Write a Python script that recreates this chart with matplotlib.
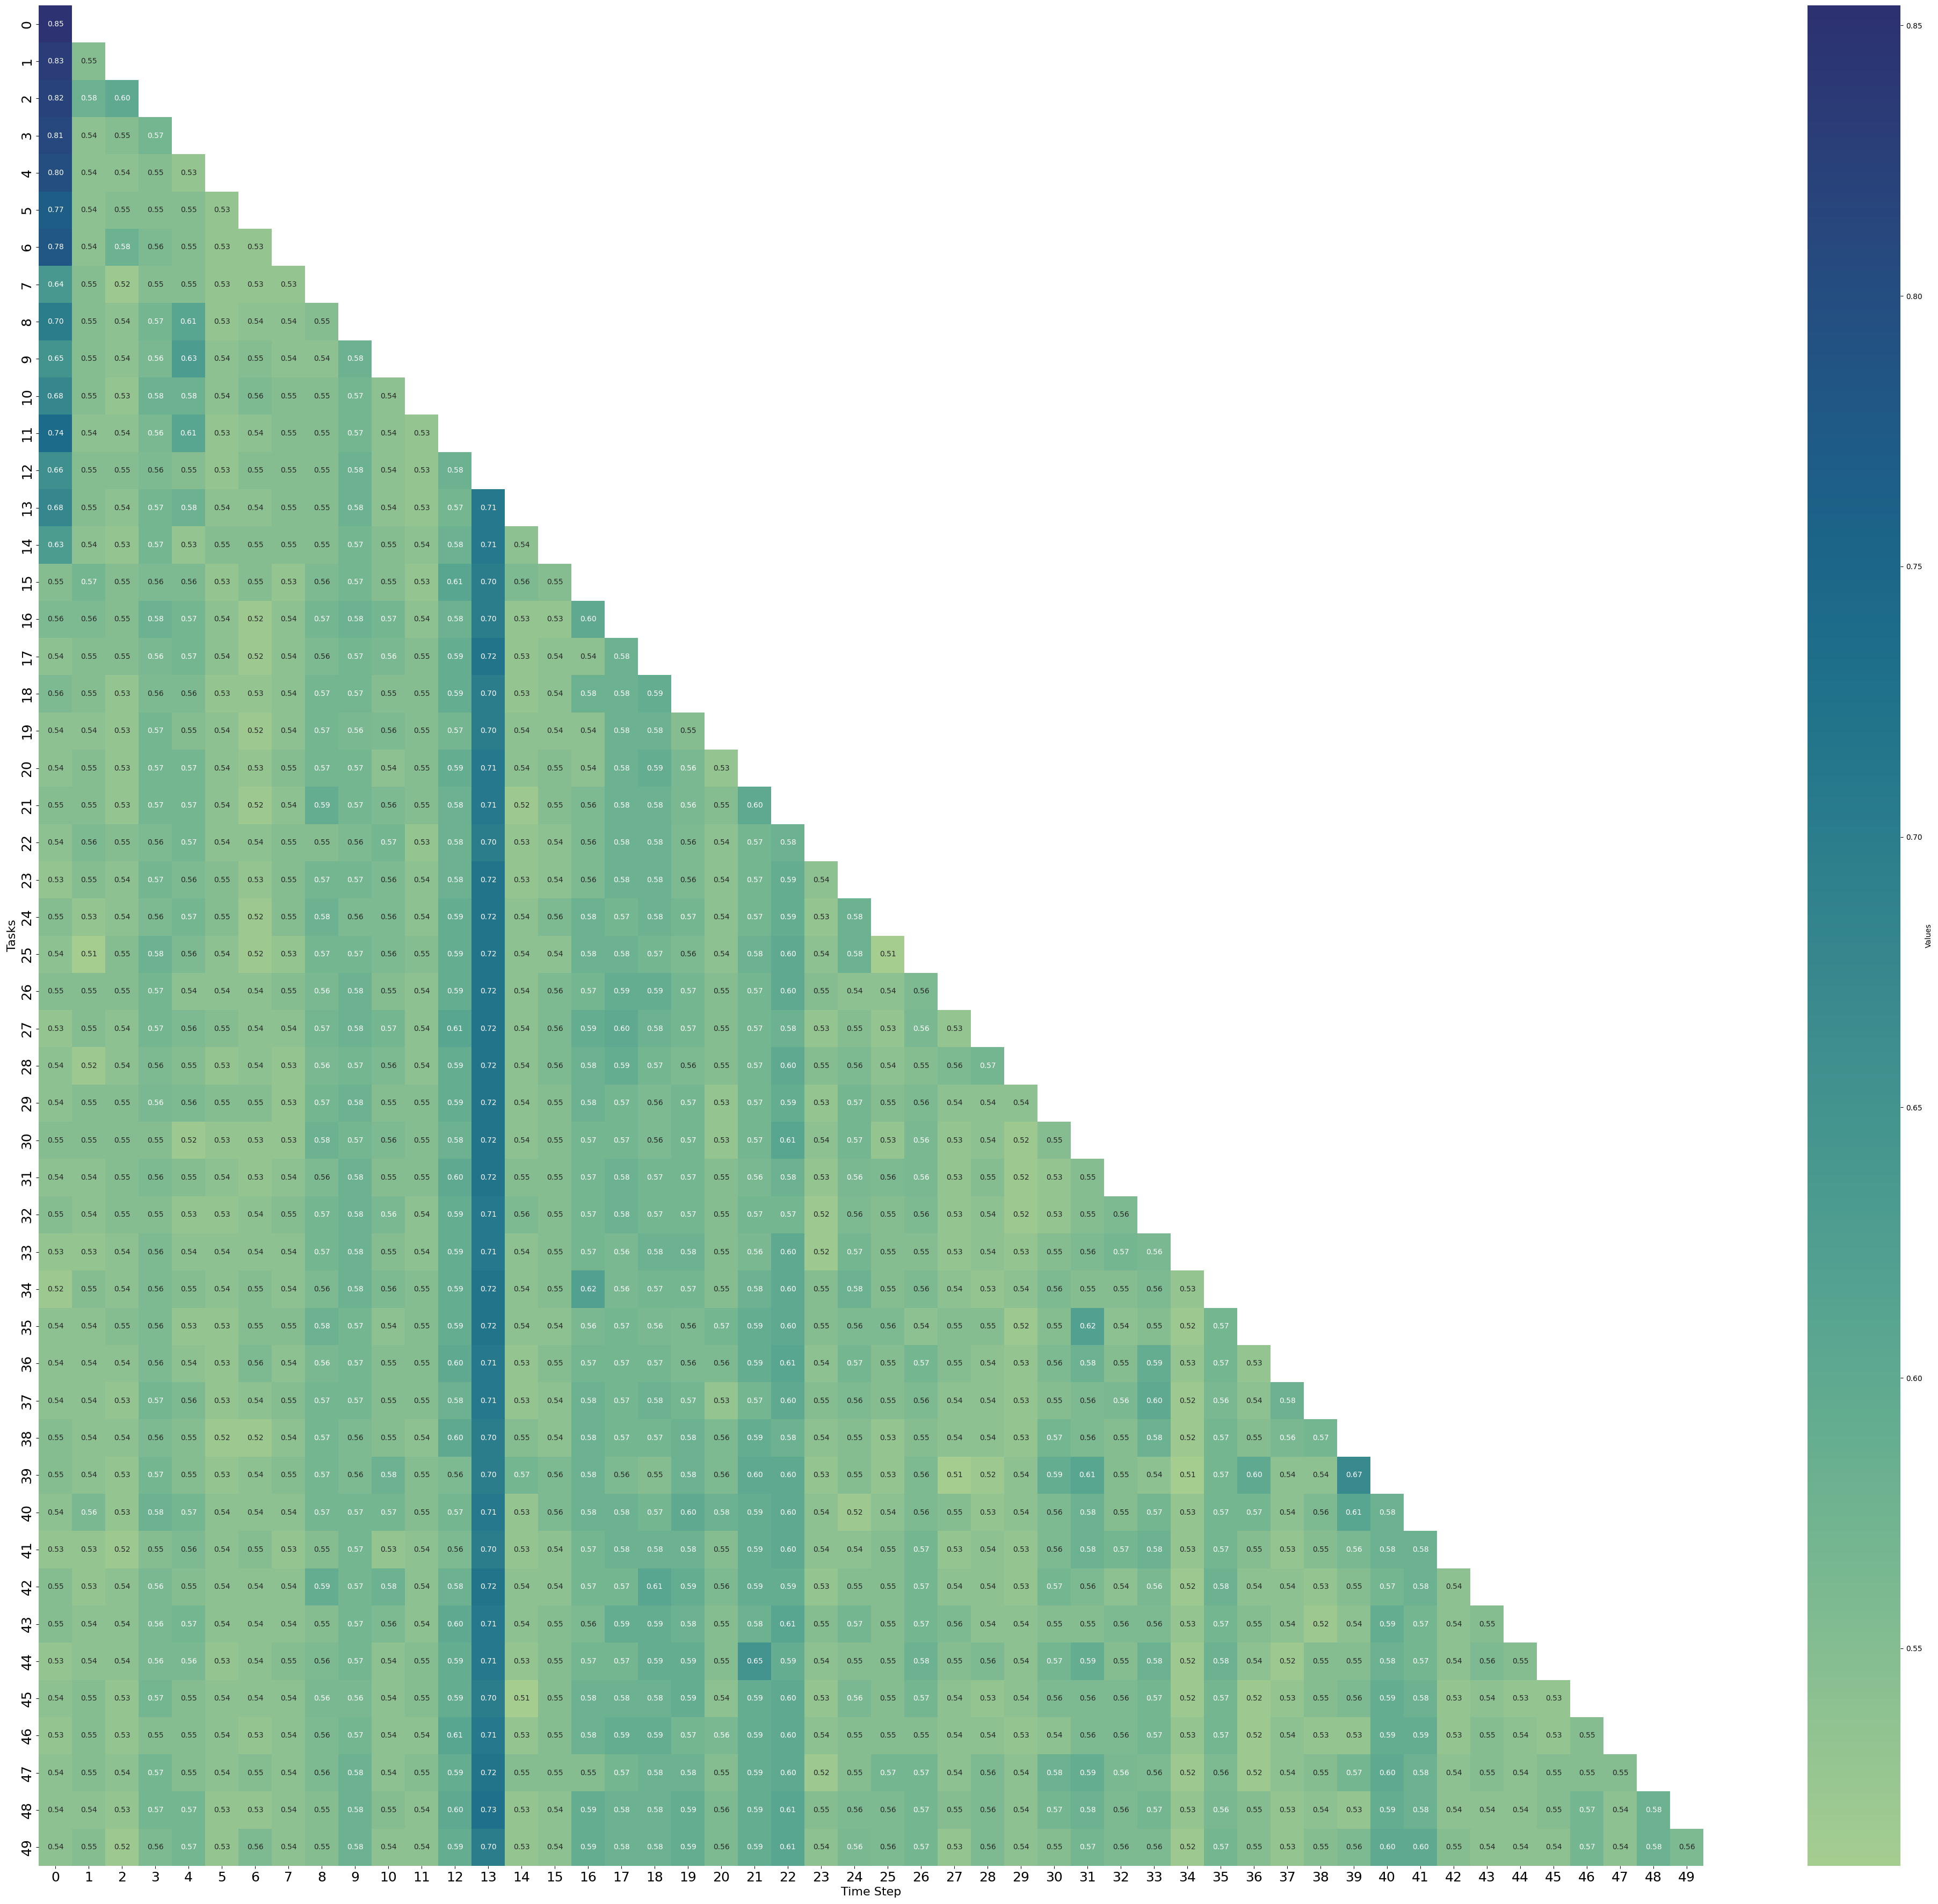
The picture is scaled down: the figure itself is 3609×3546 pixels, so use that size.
import numpy as np
import matplotlib
matplotlib.use("Agg")
import matplotlib.pyplot as plt
import seaborn as sns

# lower triangle, row by row. third decimal on the 0.56 cells is a guess from their shade
rows = [
    [.85],
    [.83,.55],
    [.82,.58,.60],
    [.81,.54,.55,.57],
    [.80,.54,.54,.55,.53],
    [.77,.54,.55,.55,.55,.53],
    [.78,.54,.58,.557,.55,.53,.53],
    [.64,.55,.52,.55,.55,.53,.53,.53],
    [.70,.55,.54,.57,.61,.53,.54,.54,.55],
    [.65,.55,.54,.563,.63,.54,.55,.54,.54,.58],
    [.68,.55,.53,.58,.58,.54,.557,.55,.55,.57,.54],
    [.74,.54,.54,.563,.61,.53,.54,.55,.55,.57,.54,.53],
    [.66,.55,.55,.557,.55,.53,.55,.55,.55,.58,.54,.53,.58],
    [.68,.55,.54,.57,.58,.54,.54,.55,.55,.58,.54,.53,.57,.71],
    [.63,.54,.53,.57,.53,.55,.55,.55,.55,.57,.55,.54,.58,.71,.54],
    [.55,.57,.55,.557,.557,.53,.55,.53,.557,.57,.55,.53,.61,.70,.557,.55],
    [.557,.557,.55,.58,.57,.54,.52,.54,.57,.58,.57,.54,.58,.70,.53,.53,.60],
    [.54,.55,.55,.563,.57,.54,.52,.54,.557,.57,.563,.55,.59,.72,.53,.54,.54,.58],
    [.557,.55,.53,.557,.557,.53,.53,.54,.57,.57,.55,.55,.59,.70,.53,.54,.58,.58,.59],
    [.54,.54,.53,.57,.55,.54,.52,.54,.57,.563,.557,.55,.57,.70,.54,.54,.54,.58,.58,.55],
    [.54,.55,.53,.57,.57,.54,.53,.55,.57,.57,.54,.55,.59,.71,.54,.55,.54,.58,.59,.563,.53],
    [.55,.55,.53,.57,.57,.54,.52,.54,.59,.57,.557,.55,.58,.71,.52,.55,.557,.58,.58,.563,.55,.60],
    [.54,.557,.55,.557,.57,.54,.54,.55,.55,.557,.57,.53,.58,.70,.53,.54,.557,.58,.58,.557,.54,.57,.58],
    [.53,.55,.54,.57,.557,.55,.53,.55,.57,.57,.557,.54,.58,.72,.53,.54,.557,.58,.58,.557,.54,.57,.59,.54],
    [.55,.53,.54,.557,.57,.55,.52,.55,.58,.557,.557,.54,.59,.72,.54,.557,.58,.57,.58,.57,.54,.57,.59,.53,.58],
    [.54,.51,.55,.58,.557,.54,.52,.53,.57,.57,.557,.55,.59,.72,.54,.54,.58,.58,.57,.557,.54,.58,.60,.54,.58,.51],
    [.55,.55,.55,.57,.54,.54,.54,.55,.563,.58,.55,.54,.59,.72,.54,.557,.57,.59,.59,.57,.55,.57,.60,.55,.54,.54,.557],
    [.53,.55,.54,.57,.557,.55,.54,.54,.57,.58,.57,.54,.61,.72,.54,.557,.59,.60,.58,.57,.55,.57,.58,.53,.55,.53,.563,.53],
    [.54,.52,.54,.557,.55,.53,.54,.53,.563,.57,.557,.54,.59,.72,.54,.557,.58,.59,.57,.557,.55,.57,.60,.55,.557,.54,.55,.557,.57],
    [.54,.55,.55,.563,.557,.55,.55,.53,.57,.58,.55,.55,.59,.72,.54,.55,.58,.57,.557,.57,.53,.57,.59,.53,.57,.55,.557,.54,.54,.54],
    [.55,.55,.55,.55,.52,.53,.53,.53,.58,.57,.557,.55,.58,.72,.54,.55,.57,.57,.557,.57,.53,.57,.61,.54,.57,.53,.563,.53,.54,.52,.55],
    [.54,.54,.55,.557,.55,.54,.53,.54,.557,.58,.55,.55,.60,.72,.55,.55,.57,.58,.57,.57,.55,.563,.58,.53,.563,.557,.563,.53,.55,.52,.53,.55],
    [.55,.54,.55,.55,.53,.53,.54,.55,.57,.58,.563,.54,.59,.71,.557,.55,.57,.58,.57,.57,.55,.57,.57,.52,.557,.55,.557,.53,.54,.52,.53,.55,.557],
    [.53,.53,.54,.557,.54,.54,.54,.54,.57,.58,.55,.54,.59,.71,.54,.55,.57,.563,.58,.58,.55,.563,.60,.52,.57,.55,.55,.53,.54,.53,.55,.557,.57,.563],
    [.52,.55,.54,.557,.55,.54,.55,.54,.557,.58,.557,.55,.59,.72,.54,.55,.62,.563,.57,.57,.55,.58,.60,.55,.58,.55,.557,.54,.53,.54,.557,.55,.55,.557,.53],
    [.54,.54,.55,.557,.53,.53,.55,.55,.58,.57,.54,.55,.59,.72,.54,.54,.563,.57,.563,.557,.57,.59,.60,.55,.557,.557,.54,.55,.55,.52,.55,.62,.54,.55,.52,.57],
    [.54,.54,.54,.557,.54,.53,.557,.54,.563,.57,.55,.55,.60,.71,.53,.55,.57,.57,.57,.557,.557,.59,.61,.54,.57,.55,.57,.55,.54,.53,.557,.58,.55,.59,.53,.57,.53],
    [.54,.54,.53,.57,.557,.53,.54,.55,.57,.57,.55,.55,.58,.71,.53,.54,.58,.57,.58,.57,.53,.57,.60,.55,.557,.55,.557,.54,.54,.53,.55,.557,.563,.60,.52,.563,.54,.58],
    [.55,.54,.54,.557,.55,.52,.52,.54,.57,.557,.55,.54,.60,.70,.55,.54,.58,.57,.57,.58,.557,.59,.58,.54,.55,.53,.55,.54,.54,.53,.57,.557,.55,.58,.52,.57,.55,.563,.57],
    [.55,.54,.53,.57,.55,.53,.54,.55,.57,.557,.58,.55,.557,.70,.57,.557,.58,.557,.55,.58,.557,.60,.60,.53,.55,.53,.557,.51,.52,.54,.59,.61,.55,.54,.51,.57,.60,.54,.54,.67],
    [.54,.563,.53,.58,.57,.54,.54,.54,.57,.57,.57,.55,.57,.71,.53,.557,.58,.58,.57,.60,.58,.59,.60,.54,.52,.54,.557,.55,.53,.54,.557,.58,.55,.57,.53,.57,.57,.54,.557,.61,.58],
    [.53,.53,.52,.55,.557,.54,.55,.53,.55,.57,.53,.54,.557,.70,.53,.54,.57,.58,.58,.58,.55,.59,.60,.54,.54,.55,.57,.53,.54,.53,.557,.58,.57,.58,.53,.57,.55,.53,.55,.563,.58,.58],
    [.55,.53,.54,.563,.55,.54,.54,.54,.59,.57,.58,.54,.58,.72,.54,.54,.57,.57,.61,.59,.557,.59,.59,.53,.55,.55,.57,.54,.54,.53,.57,.557,.54,.563,.52,.58,.54,.54,.53,.55,.57,.58,.54],
    [.55,.54,.54,.563,.57,.54,.54,.54,.55,.57,.557,.54,.60,.71,.54,.55,.557,.59,.59,.58,.55,.58,.61,.55,.57,.55,.57,.557,.54,.54,.55,.55,.557,.557,.53,.57,.55,.54,.52,.54,.59,.57,.54,.55],
    [.53,.54,.54,.563,.563,.53,.54,.55,.557,.57,.54,.55,.59,.71,.53,.55,.57,.57,.59,.59,.55,.65,.59,.54,.55,.55,.58,.55,.557,.54,.57,.59,.55,.58,.52,.58,.54,.52,.55,.55,.58,.57,.54,.557,.55],
    [.54,.55,.53,.57,.55,.54,.54,.54,.563,.563,.54,.55,.59,.70,.51,.55,.58,.58,.58,.59,.54,.59,.60,.53,.563,.55,.57,.54,.53,.54,.557,.557,.557,.57,.52,.57,.52,.53,.55,.557,.59,.58,.53,.54,.53,.53],
    [.53,.55,.53,.55,.55,.54,.53,.54,.557,.57,.54,.54,.61,.71,.53,.55,.58,.59,.59,.57,.563,.59,.60,.54,.55,.55,.55,.54,.54,.53,.54,.557,.557,.57,.53,.57,.52,.54,.53,.53,.59,.59,.53,.55,.54,.53,.55],
    [.54,.55,.54,.57,.55,.54,.55,.54,.557,.58,.54,.55,.59,.72,.55,.55,.55,.57,.58,.58,.55,.59,.60,.52,.55,.57,.57,.54,.557,.54,.58,.59,.563,.557,.52,.557,.52,.54,.55,.57,.60,.58,.54,.55,.54,.55,.55,.55],
    [.54,.54,.53,.57,.57,.53,.53,.54,.55,.58,.55,.54,.60,.73,.53,.54,.59,.58,.58,.59,.557,.59,.61,.55,.557,.557,.57,.55,.557,.54,.57,.58,.557,.57,.53,.563,.55,.53,.54,.53,.59,.58,.54,.54,.54,.55,.57,.54,.58],
    [.54,.55,.52,.557,.57,.53,.557,.54,.55,.58,.54,.54,.59,.70,.53,.54,.59,.58,.58,.59,.557,.59,.61,.54,.563,.557,.57,.53,.557,.54,.55,.57,.557,.557,.52,.57,.55,.53,.55,.557,.60,.60,.55,.54,.54,.54,.57,.54,.58,.557],
]
tasks = [str(i) for i in range(50)]
time_steps = [str(i) for i in range(50)]
cbar_ticks = [0.55, 0.60, 0.65, 0.70, 0.75, 0.80, 0.85]

# fill up the square, upper triangle stays masked
data = np.full((50, 50), np.nan)
for i, r in enumerate(rows):
    data[i, :len(r)] = r
mask = np.isnan(data)

W, H = 3609, 3546
fig = plt.figure(figsize=(W / 100, H / 100), dpi=100)
ax = fig.add_axes([72 / W, 1 - 3475 / H, 3100 / W, 3465 / H])
cax = fig.add_axes([3366 / W, 1 - 3475 / H, 173 / W, 3465 / H])

sns.heatmap(data, mask=mask, cmap="crest", vmin=0.5098, vmax=0.8537,
            annot=True, fmt=".2f", annot_kws={"size": 10},
            xticklabels=time_steps, yticklabels=tasks,
            ax=ax, cbar_ax=cax, cbar_kws={"label": "Values", "ticks": cbar_ticks})

ax.set_xlabel("Time Step", fontsize=16)
ax.set_ylabel("Tasks", fontsize=16)
ax.tick_params(axis="x", labelsize=18, labelrotation=0)
ax.tick_params(axis="y", labelsize=18, labelrotation=90)
for t in ax.get_yticklabels():
    t.set_va("center")

fig.savefig("out.png", dpi=100)
